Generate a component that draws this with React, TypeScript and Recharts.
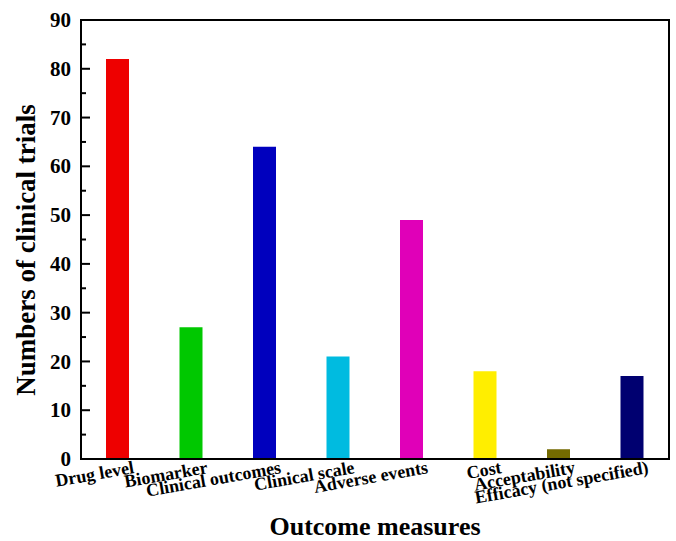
import { BarChart, Bar, XAxis, YAxis, Cell, Label, ReferenceArea } from 'recharts';

const categories = [
  'Drug level', 'Biomarker', 'Clinical outcomes', 'Clinical scale',
  'Adverse events', 'Cost', 'Acceptability', 'Efficacy (not specified)',
];
const trialCounts = [82, 27, 64, 21, 49, 18, 2, 17];
const barColors = ['#EE0000', '#00C800', '#0000BE', '#00BBE0', '#E000B8', '#FFEE00', '#746A00', '#000070'];
const yTicks = [0, 5, 10, 15, 20, 25, 30, 35, 40, 45, 50, 55, 60, 65, 70, 75, 80, 85, 90];

const data = categories.map((name, i) => ({ name, count: trialCounts[i] }));

const FONT = '"Liberation Serif", "Times New Roman", serif';

// inward ticks: long at every 10, short at the 5s
function YTick({ x, y, payload }: any) {
  const major = payload.value % 10 === 0;
  return (
    <g>
      <line x1={x} x2={x + (major ? 9 : 5)} y1={y} y2={y} stroke="#000" strokeWidth={2} />
      {major && (
        <text x={x - 10} y={y} dy="0.34em" textAnchor="end"
          fontFamily={FONT} fontWeight="bold" fontSize={21} fill="#000">
          {payload.value}
        </text>
      )}
    </g>
  );
}

function XTick({ x, y, payload }: any) {
  const tx = x + 17;
  const ty = y + 14;
  return (
    <text x={tx} y={ty} textAnchor="end" transform={`rotate(-10, ${tx}, ${ty})`}
      fontFamily={FONT} fontWeight="bold" fontSize={18} fill="#000">
      {payload.value}
    </text>
  );
}

export default function App() {
  return (
    <div style={{ position: 'absolute', left: 0, top: 0, background: '#fff' }}>
      <BarChart width={676} height={541} data={data}
        margin={{ top: 20, right: 7, left: 0, bottom: 0 }}>
        <XAxis dataKey="name" height={82} tickLine={false} tickSize={0} tickMargin={0}
          interval={0} tick={<XTick />} axisLine={{ stroke: '#000', strokeWidth: 2 }}>
          <Label
            content={({ viewBox }: any) => (
              <text x={viewBox.x + viewBox.width / 2} y={viewBox.y + 76} textAnchor="middle"
                fontFamily={FONT} fontWeight="bold" fontSize={26} fill="#000">
                Outcome measures
              </text>
            )}
          />
        </XAxis>
        <YAxis domain={[0, 90]} ticks={yTicks} width={81} tickLine={false} tickSize={0}
          tickMargin={0} interval={0} tick={<YTick />} axisLine={{ stroke: '#000', strokeWidth: 2 }}>
          <Label
            content={() => {
              const cx = 35;
              const cy = 250;
              return (
                <text x={cx} y={cy} textAnchor="middle" transform={`rotate(-90, ${cx}, ${cy})`}
                  fontFamily={FONT} fontWeight="bold" fontSize={27} fill="#000">
                  Numbers of clinical trials
                </text>
              );
            }}
          />
        </YAxis>
        <Bar dataKey="count" barSize={23} isAnimationActive={false}>
          {data.map((_, i) => (
            <Cell key={i} fill={barColors[i]} />
          ))}
        </Bar>
        {/* box frame around the plot */}
        <ReferenceArea y1={0} y2={90} fill="none" fillOpacity={0} stroke="#000" strokeWidth={2} />
      </BarChart>
    </div>
  );
}
